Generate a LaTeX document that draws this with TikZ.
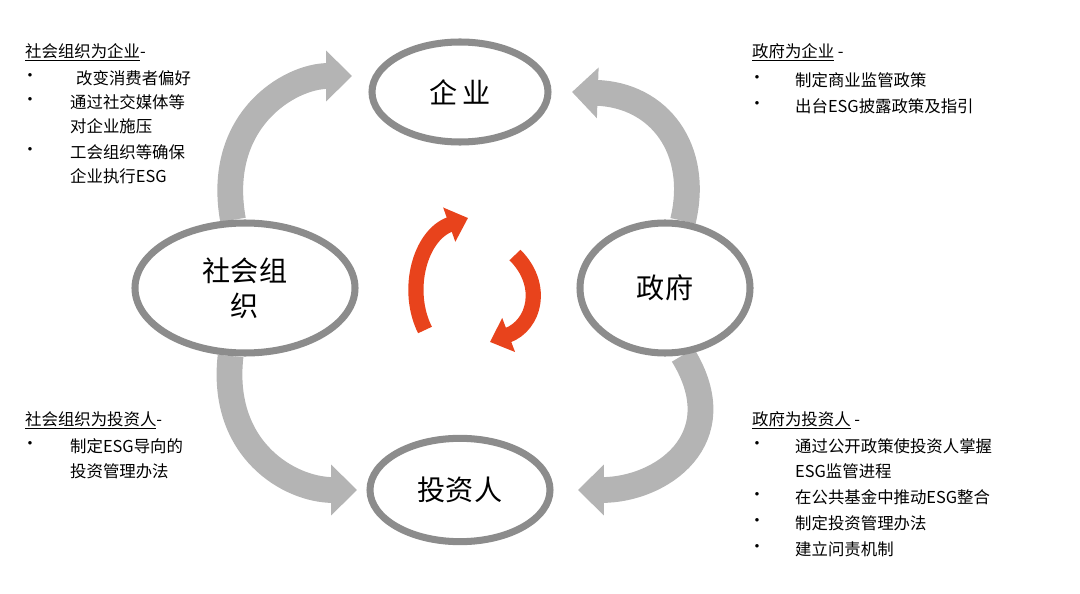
\documentclass[tikz,border=0pt]{standalone}
\usepackage{fontspec}
\setmainfont{Noto Sans CJK SC}
\usetikzlibrary{shapes.geometric,arrows.meta,backgrounds}
\definecolor{ringgray}{HTML}{8C8C8C}
\definecolor{flowgray}{HTML}{B4B4B4}
\definecolor{cyclered}{HTML}{E8431C}
\tikzset{
  actor/.style={ellipse, draw=ringgray, line width=6pt, fill=white, font=\fontsize{24}{30}\selectfont, align=center, inner sep=0pt},
  flow/.style={flowgray, line width=22pt, -{Triangle[length=22pt,width=42pt]}},
  cycle/.style={cyclered, line width=13pt, -{Triangle[length=17pt,width=30pt]}},
  note/.style={anchor=west, font=\fontsize{14}{16}\selectfont, inner sep=0pt},
  dot/.style={anchor=center, font=\fontsize{14}{16}\selectfont, inner sep=0pt}
}
\begin{document}
\begin{tikzpicture}[x=0.03cm,y=-0.03cm]
\useasboundingbox (0,0) rectangle (1080,594);

% Actors
\node[actor, minimum width=5.28cm, minimum height=3cm] (firm) at (460,92) {企\,业};
\node[actor, minimum width=6.6cm, minimum height=3.9cm] (society) at (245,288) {社会组\\织};
\node[actor, minimum width=5.1cm, minimum height=3.9cm] (gov) at (665,288) {政府};
\node[actor, minimum width=5.4cm, minimum height=3.1cm] (investor) at (460,490) {投资人};

% Gray flows
\coordinate (fl) at (352,76);
\coordinate (fr) at (572,92);
\coordinate (il) at (357,490);
\coordinate (ir) at (578,490);
\begin{scope}[on background layer]
\draw[flow] (society.100) .. controls (215,120) and (290,76) .. (fl);
\draw[flow] (gov.75) .. controls (700,150) and (660,95) .. (fr);
\draw[flow] (society.258) .. controls (220,450) and (290,490) .. (il);
\draw[flow] (gov.285) .. controls (735,440) and (660,490) .. (ir);
\end{scope}

% Red cycle
\coordinate (r1s) at (425,330);
\coordinate (r1e) at (468,218);
\coordinate (r2s) at (515,255);
\coordinate (r2e) at (490,342);
\draw[cycle] (r1s) .. controls (405,290) and (420,235) .. (r1e);
\draw[cycle] (r2s) .. controls (545,285) and (535,325) .. (r2e);

% Society -> firm
\node[note] (t1) at (25,52) {\underline{社会组织为企业}-};
\node[dot] (b11) at (30,78) {•};
\node[note] (t11) at (76,78) {改变消费者偏好};
\node[dot] (b12) at (30,102) {•};
\node[note] (t12) at (70,102) {通过社交媒体等};
\node[note] (t13) at (70,126) {对企业施压};
\node[dot] (b13) at (30,152) {•};
\node[note] (t14) at (70,152) {工会组织等确保};
\node[note] (t15) at (70,176) {企业执行ESG};

% Government -> firm
\node[note] (t2) at (752,52) {\underline{政府为企业} -};
\node[dot] (b21) at (757,80) {•};
\node[note] (t21) at (795,80) {制定商业监管政策};
\node[dot] (b22) at (757,106) {•};
\node[note] (t22) at (795,106) {出台ESG披露政策及指引};

% Society -> investor
\node[note] (t3) at (25,420) {\underline{社会组织为投资人}-};
\node[dot] (b31) at (30,446) {•};
\node[note] (t31) at (70,446) {制定ESG导向的};
\node[note] (t32) at (70,471) {投资管理办法};

% Government -> investor
\node[note] (t4) at (752,420) {\underline{政府为投资人} -};
\node[dot] (b41) at (757,446) {•};
\node[note] (t41) at (795,446) {通过公开政策使投资人掌握};
\node[note] (t42) at (795,471) {ESG监管进程};
\node[dot] (b42) at (757,497) {•};
\node[note] (t43) at (795,497) {在公共基金中推动ESG整合};
\node[dot] (b43) at (757,523) {•};
\node[note] (t44) at (795,523) {制定投资管理办法};
\node[dot] (b44) at (757,549) {•};
\node[note] (t45) at (795,549) {建立问责机制};

\end{tikzpicture}
\end{document}
